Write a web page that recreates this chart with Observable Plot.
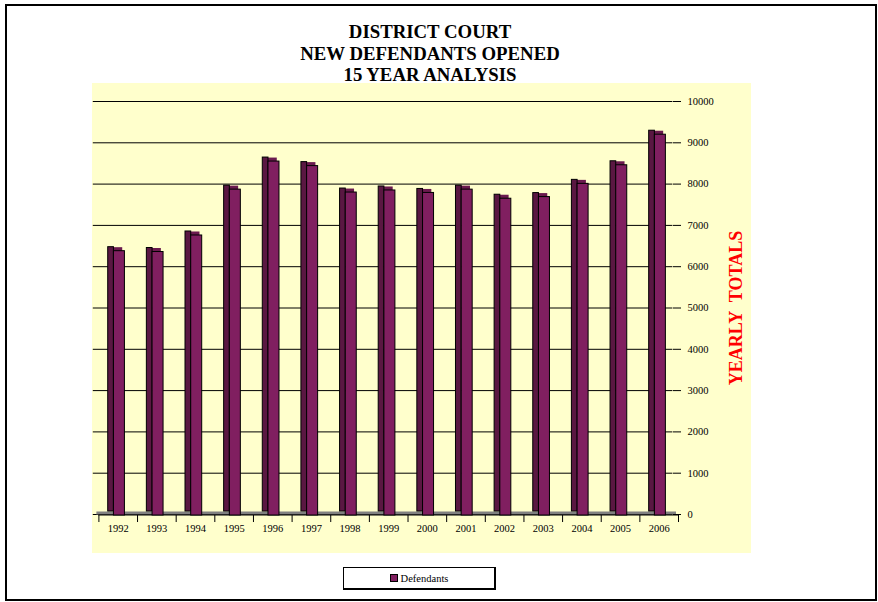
<!DOCTYPE html>
<html>
<head>
<meta charset="utf-8">
<script src="https://cdn.jsdelivr.net/npm/d3@7"></script>
<script src="https://cdn.jsdelivr.net/npm/@observablehq/plot@0.6"></script>
<style>
  html, body { margin: 0; padding: 0; background: #fff; }
  #page { position: relative; width: 878px; height: 602px; overflow: hidden; font-family: "Liberation Serif", "Times New Roman", serif; }
  #border { position: absolute; left: 5px; top: 4px; width: 872px; height: 597px; border: 2px solid #000; box-sizing: border-box; }
  #title { position: absolute; left: 180px; width: 500px; top: 21px; text-align: center; font-weight: bold; font-size: 18.8px; line-height: 21.5px; color: #000; z-index: 2; }
  #chart { position: absolute; left: 92px; top: 83px; }
  #chart svg text { font-family: "Liberation Serif", "Times New Roman", serif !important; }
  #legend { position: absolute; left: 343px; top: 567px; width: 153px; height: 23px; border: 1px solid #000; border-right-width: 2px; border-bottom-width: 2px; box-sizing: border-box; font-size: 10.5px; display: flex; align-items: center; justify-content: center; background: #fff; }
  #legend .sw { display: inline-block; width: 6px; height: 6px; background: #801f60; border: 1px solid #000; margin-right: 3px; }
</style>
</head>
<body>
<div id="page">
  <div id="border"></div>
  <div id="chart"></div>
  <div id="title">DISTRICT COURT<br>NEW DEFENDANTS OPENED<br>15 YEAR ANALYSIS</div>
  <div id="legend"><span class="sw"></span><span>Defendants</span></div>
</div>
<script>
const years = ["1992","1993","1994","1995","1996","1997","1998","1999","2000","2001","2002","2003","2004","2005","2006"];
const defendants = [6400, 6380, 6780, 7890, 8570, 8460, 7820, 7870, 7810, 7890, 7670, 7710, 8030, 8480, 9220];
const yTicks = [0, 1000, 2000, 3000, 4000, 5000, 6000, 7000, 8000, 9000, 10000];
const yTitle = "YEARLY\u00a0 TOTALS";
const seriesName = "Defendants";

const data = years.map((year, i) => ({year, value: defendants[i]}));

const W = 659, H = 470, ML = 6.4, MR = 73;
const half = (W - ML - MR) / years.length / 2;

const chart = Plot.plot({
  width: W,
  height: H,
  marginLeft: ML,
  marginRight: MR,
  marginTop: 18,
  marginBottom: 39,
  style: {background: "#FFFFCC", fontFamily: "Liberation Serif, serif", fontSize: "10.5px", color: "#000", overflow: "visible"},
  x: {type: "band", domain: years, padding: 0, round: false, label: null},
  y: {domain: [0, 10000], label: null},
  marks: [
    Plot.ruleY(yTicks, {dx: -5.6, stroke: "#000", strokeWidth: 1}),
    Plot.ruleY([0], {dx: -2, dy: -1.5, stroke: "#808080", strokeWidth: 3}),
    Plot.ruleY([0], {dy: 0.5, stroke: "#000", strokeWidth: 1}),
    Plot.axisY({ticks: yTicks, anchor: "right", tickSize: 8, tickPadding: 7, dx: -6, label: null, tickFormat: d => String(d)}),
    Plot.axisX({tickSize: 0, tickPadding: 10, label: null}),
    Plot.ruleX(years, {x: d => d, y1: 0, y2: -170, dx: -half, dy: 1, stroke: "#000"}),
    Plot.ruleX([years[years.length - 1]], {x: d => d, y1: 0, y2: -170, dx: half, dy: 1, stroke: "#000"}),
    Plot.tickY(data, {x: "year", y: "value", insetLeft: half - 7.5, insetRight: half - 4.5, dy: -1, stroke: "#6a1a4e", strokeWidth: 4}),
    Plot.barY(data, {x: "year", y: "value", insetLeft: half - 10, insetRight: half + 4.3, dy: -3, fill: "#5a1742", stroke: "#000", strokeWidth: 1}),
    Plot.barY(data, {x: "year", y: "value", insetLeft: half - 4.3, insetRight: half - 6.7, dy: 1, fill: "#801f60", stroke: "#000", strokeWidth: 1}),
    Plot.text([yTitle], {frameAnchor: "right", textAnchor: "middle", dx: 58, dy: 0, rotate: -90, fill: "#ff0000", fontWeight: "bold", fontSize: 18})
  ]
});
document.getElementById("chart").appendChild(chart);
document.querySelector("#legend span:last-child").textContent = seriesName;
</script>
</body>
</html>
